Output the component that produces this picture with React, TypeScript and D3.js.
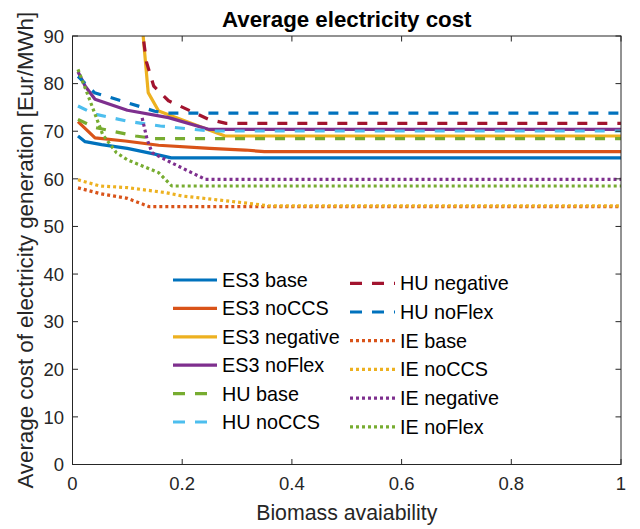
import * as d3 from 'd3';

// ES3 scenarios (solid)
const es3BaseX = [0.01, 0.023, 0.053, 0.1, 0.15, 0.18, 1];
const es3BaseY = [69.0, 67.8, 67.2, 66.4, 65.2, 64.4, 64.4];
const es3NoCcsX = [0.01, 0.041, 0.096, 0.157, 0.25, 0.315, 0.35, 1];
const es3NoCcsY = [72.0, 68.6, 67.95, 67.05, 66.4, 66.05, 65.7, 65.7];
const es3NegativeX = [0.125, 0.138, 0.157, 0.278, 1];
const es3NegativeY = [95, 78.1, 74.25, 69.0, 69.0];
const es3NoFlexX = [0.01, 0.023, 0.041, 0.1, 0.175, 0.248, 1];
const es3NoFlexY = [82.5, 79.5, 76.7, 74.4, 72.85, 70.4, 70.4];

// HU scenarios (dashed)
const huBaseX = [0.01, 0.04, 0.115, 0.15, 1];
const huBaseY = [72.5, 70.8, 69.0, 68.45, 68.45];
const huNoCcsX = [0.01, 0.04, 0.1, 0.16, 0.25, 1];
const huNoCcsY = [75.3, 73.6, 72.1, 71.1, 70.05, 70.05];
const huNegativeX = [0.125, 0.135, 0.148, 0.175, 0.248, 0.28, 1];
const huNegativeY = [93, 84.5, 79.5, 76.4, 72.5, 71.65, 71.65];
const huNoFlexX = [0.01, 0.04, 0.1, 0.15, 0.17, 1];
const huNoFlexY = [81.5, 78.1, 76.0, 74.2, 73.8, 73.8];

// IE scenarios (dotted)
const ieBaseX = [0.01, 0.05, 0.1, 0.14, 1];
const ieBaseY = [58.1, 56.9, 55.9, 54.15, 54.15];
const ieNoCcsX = [0.01, 0.05, 0.1, 0.17, 0.2, 0.31, 0.36, 1];
const ieNoCcsY = [59.8, 58.5, 58.15, 57.1, 56.4, 55.0, 54.3, 54.3];
const ieNegativeX = [0.127, 0.136, 0.145, 0.18, 0.242, 1];
const ieNegativeY = [72.8, 68.3, 65.5, 63.4, 59.9, 59.9];
const ieNoFlexX = [0.01, 0.03, 0.055, 0.08, 0.1, 0.157, 0.181, 1];
const ieNoFlexY = [83, 77, 69.3, 65.5, 64, 61.3, 58.5, 58.5];

const xTicks = [0, 0.2, 0.4, 0.6, 0.8, 1];
const yTicks = [0, 10, 20, 30, 40, 50, 60, 70, 80, 90];

const BLUE = '#0072BD';
const ORANGE = '#D95319';
const YELLOW = '#EDB120';
const PURPLE = '#7E2F8E';
const GREEN = '#77AC30';
const LIGHTBLUE = '#4DBEEE';
const DARKRED = '#A2142F';

type Style = 'solid' | 'dashed' | 'dotted';
type Series = { name: string; xs: number[]; ys: number[]; color: string; style: Style };

const series: Series[] = [
  { name: 'ES3 base', xs: es3BaseX, ys: es3BaseY, color: BLUE, style: 'solid' },
  { name: 'ES3 noCCS', xs: es3NoCcsX, ys: es3NoCcsY, color: ORANGE, style: 'solid' },
  { name: 'ES3 negative', xs: es3NegativeX, ys: es3NegativeY, color: YELLOW, style: 'solid' },
  { name: 'ES3 noFlex', xs: es3NoFlexX, ys: es3NoFlexY, color: PURPLE, style: 'solid' },
  { name: 'HU base', xs: huBaseX, ys: huBaseY, color: GREEN, style: 'dashed' },
  { name: 'HU noCCS', xs: huNoCcsX, ys: huNoCcsY, color: LIGHTBLUE, style: 'dashed' },
  { name: 'HU negative', xs: huNegativeX, ys: huNegativeY, color: DARKRED, style: 'dashed' },
  { name: 'HU noFlex', xs: huNoFlexX, ys: huNoFlexY, color: BLUE, style: 'dashed' },
  { name: 'IE base', xs: ieBaseX, ys: ieBaseY, color: ORANGE, style: 'dotted' },
  { name: 'IE noCCS', xs: ieNoCcsX, ys: ieNoCcsY, color: YELLOW, style: 'dotted' },
  { name: 'IE negative', xs: ieNegativeX, ys: ieNegativeY, color: PURPLE, style: 'dotted' },
  { name: 'IE noFlex', xs: ieNoFlexX, ys: ieNoFlexY, color: GREEN, style: 'dotted' },
];

const WIDTH = 640;
const HEIGHT = 529;
const MARGIN = { top: 36, right: 19, bottom: 64.5, left: 72.5 };
const FONT = "'Liberation Sans', Arial, Helvetica, sans-serif";
const AXIS_COLOR = '#262626';
const LINE_W = 3.2;

const dashFor = (s: Style, legend = false) =>
  s === 'dashed' ? (legend ? '12,10' : '10,10') : s === 'dotted' ? '3,3' : undefined;

export default function App() {
  const boundsWidth = WIDTH - MARGIN.left - MARGIN.right;
  const boundsHeight = HEIGHT - MARGIN.top - MARGIN.bottom;

  const xScale = d3.scaleLinear().domain([0, 1]).range([0, boundsWidth]);
  const yScale = d3.scaleLinear().domain([0, 90]).range([boundsHeight, 0]);

  const lineGen = d3
    .line<[number, number]>()
    .x((d) => xScale(d[0]))
    .y((d) => yScale(d[1]));

  const tickLen = 5.5;

  // legend layout: two columns of six
  const leftCol = { x0: 173 - MARGIN.left, x1: 217 - MARGIN.left, tx: 222 - MARGIN.left, y0: 280 - MARGIN.top, dy: 28.4 };
  const rightCol = { x0: 350 - MARGIN.left, x1: 395 - MARGIN.left, tx: 400 - MARGIN.left, y0: 283.3 - MARGIN.top, dy: 28.7 };

  return (
    <svg
      width={WIDTH}
      height={HEIGHT}
      style={{ position: 'fixed', left: 0, top: 0, background: '#fff' }}
      fontFamily={FONT}
    >
      <rect width={WIDTH} height={HEIGHT} fill="#fff" />
      <defs>
        <clipPath id="plot-clip">
          <rect x={0} y={0} width={boundsWidth} height={boundsHeight} />
        </clipPath>
      </defs>
      <g transform={`translate(${[MARGIN.left, MARGIN.top].join(',')})`}>
        <g clipPath="url(#plot-clip)">
          {series.map((s) => (
            <path
              key={s.name}
              d={lineGen(s.xs.map((x, i) => [x, s.ys[i]] as [number, number])) || ''}
              fill="none"
              stroke={s.color}
              strokeWidth={LINE_W}
              strokeDasharray={dashFor(s.style)}
              strokeLinejoin="round"
            />
          ))}
        </g>

        {/* box */}
        <rect x={0} y={0} width={boundsWidth} height={boundsHeight} fill="none" stroke={AXIS_COLOR} strokeWidth={1} />

        {/* x ticks */}
        {xTicks.map((t) => (
          <g key={`xt-${t}`}>
            <line x1={xScale(t)} x2={xScale(t)} y1={boundsHeight} y2={boundsHeight - tickLen} stroke={AXIS_COLOR} />
            <line x1={xScale(t)} x2={xScale(t)} y1={0} y2={tickLen} stroke={AXIS_COLOR} />
            <text x={xScale(t)} y={boundsHeight + 25} textAnchor="middle" fontSize={18.5} fill={AXIS_COLOR}>
              {String(t)}
            </text>
          </g>
        ))}

        {/* y ticks */}
        {yTicks.map((t) => (
          <g key={`yt-${t}`}>
            <line x1={0} x2={tickLen} y1={yScale(t)} y2={yScale(t)} stroke={AXIS_COLOR} />
            <line x1={boundsWidth} x2={boundsWidth - tickLen} y1={yScale(t)} y2={yScale(t)} stroke={AXIS_COLOR} />
            <text x={-8.5} y={yScale(t) + 6.7} textAnchor="end" fontSize={18.5} fill={AXIS_COLOR}>
              {t}
            </text>
          </g>
        ))}

        {/* legend */}
        {series.map((s, i) => {
          const col = i < 6 ? leftCol : rightCol;
          const row = i < 6 ? i : i - 6;
          const y = col.y0 + row * col.dy;
          return (
            <g key={`lg-${s.name}`}>
              <line
                x1={col.x0}
                x2={col.x1}
                y1={y}
                y2={y}
                stroke={s.color}
                strokeWidth={LINE_W}
                strokeDasharray={dashFor(s.style, true)}
              />
              <text x={col.tx} y={y + 7} fontSize={19.8} fill="#000">
                {s.name}
              </text>
            </g>
          );
        })}
      </g>

      {/* title */}
      <text
        x={MARGIN.left + boundsWidth / 2}
        y={27}
        textAnchor="middle"
        fontSize={22.3}
        fontWeight="bold"
        fill="#000"
      >
        Average electricity cost
      </text>

      {/* x label */}
      <text x={MARGIN.left + boundsWidth / 2} y={520} textAnchor="middle" fontSize={21.3} fill={AXIS_COLOR}>
        Biomass avaiability
      </text>

      {/* y label */}
      <text
        transform={`translate(33,${MARGIN.top + boundsHeight / 2}) rotate(-90)`}
        textAnchor="middle"
        fontSize={22.3}
        fill={AXIS_COLOR}
      >
        Average cost of electricity generation [Eur/MWh]
      </text>
    </svg>
  );
}
